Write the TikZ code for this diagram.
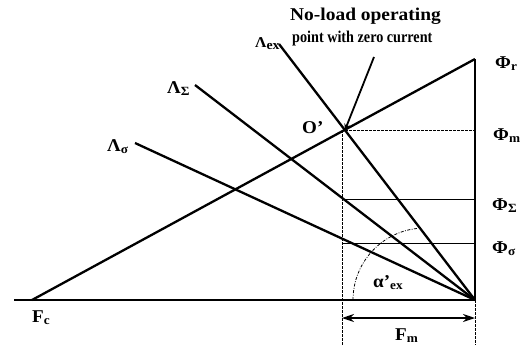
\documentclass[tikz,border=0pt]{standalone}
\usepackage{fontspec}
\setmainfont{Liberation Serif}
\usetikzlibrary{arrows.meta}
\newcommand\lsub[1]{\raisebox{-0.35ex}{\fontsize{12.5}{12.5}\selectfont #1}}
\newcommand\ssub[1]{\raisebox{-0.3ex}{\fontsize{13}{13}\selectfont #1}}
\newcommand\wide[1]{\scalebox{1.06}[1]{#1}}
\begin{document}
\begin{tikzpicture}[x=1pt,y=-1pt,
  mainline/.style={line width=2.3pt},
  thinline/.style={line width=0.8pt},
  guide/.style={line width=0.7pt,dash pattern=on 2.5pt off 1.5pt},
  lbl/.style={inner sep=0pt,font=\fontsize{18}{20}\selectfont\bfseries},
  ttl/.style={inner sep=0pt}]
\useasboundingbox (0,0) rectangle (521,348);
% key points
\coordinate (O) at (475,300);
\coordinate (Pr) at (475,59);
\coordinate (Fcp) at (32,300);
\coordinate (Op) at (345,130);
\coordinate (Lex) at (279,44);
\coordinate (LS) at (195,85);
\coordinate (Ls) at (135,143);
\coordinate (BL) at (14,300);
\coordinate (Pm) at (475,130);
\coordinate (PS) at (475,199);
\coordinate (Ps) at (475,243);
\coordinate (VS) at (342,199);
\coordinate (Vs) at (342,243);
\coordinate (Vt) at (342,130);
\coordinate (Vb) at (342,345);
\coordinate (Ob) at (475,345);
\coordinate (Fa) at (342,318);
\coordinate (Fb) at (475,318);
\coordinate (Ptr) at (374,57);
\coordinate (Arc0) at (353,300);
% axes
\draw[mainline] (BL) -- (O);
\draw[mainline] (O) -- (Pr);
\draw[mainline] (Fcp) -- (Pr);
% permeance lines
\draw[mainline] (Lex) -- (O);
\draw[mainline] (LS) -- (O);
\draw[mainline] (Ls) -- (O);
% flux levels
\draw[guide] (Op) -- (Pm);
\draw[thinline] (VS) -- (PS);
\draw[thinline] (Vs) -- (Ps);
\draw[guide] (Vt) -- (Vb);
\draw[guide] (O) -- (Ob);
% angle arc
\draw[line width=0.8pt,dash pattern=on 3pt off 1.5pt on 0.8pt off 1.5pt] (Arc0) arc[start angle=180,end angle=96,radius=72pt];
% Fm dimension
\draw[line width=1.5pt,{Stealth[length=12pt,width=8pt]}-{Stealth[length=12pt,width=8pt]}] (Fa) -- (Fb);
% pointer to O'
\draw[line width=1.8pt,-{Stealth[length=6pt,width=6pt]}] (Ptr) -- (Op);
% labels
\node[ttl,anchor=base west,font=\fontsize{18}{21}\selectfont\bfseries] (t1) at (290,20) {\scalebox{1.08}[1]{No-load operating}};
\node[ttl,anchor=base west,font=\fontsize{16.5}{18}\selectfont\bfseries] (t2) at (292,42) {\scalebox{0.86}[1]{point with zero current}};
\node[lbl,anchor=base west,font=\fontsize{15}{16}\selectfont\bfseries] (lexl) at (255,47) {\wide{Λ\ssub{ex}}};
\node[lbl,anchor=base west] (lSl) at (167,93) {\wide{Λ\lsub{Σ}}};
\node[lbl,anchor=base west] (lsl) at (107,151) {\wide{Λ\lsub{σ}}};
\node[lbl,anchor=base west] (opl) at (302,133) {\wide{O’}};
\node[lbl,anchor=base west] (prl) at (495,68) {\wide{Φ\lsub{r}}};
\node[lbl,anchor=base west] (pml) at (493,140) {\wide{Φ\lsub{m}}};
\node[lbl,anchor=base west] (pSl) at (492,210) {\wide{Φ\lsub{Σ}}};
\node[lbl,anchor=base west] (psl) at (492,253) {\wide{Φ\lsub{σ}}};
\node[lbl,anchor=base west] (fcl) at (32,322) {\wide{F\lsub{c}}};
\node[lbl,anchor=base west] (fml) at (395,340) {\wide{F\lsub{m}}};
\node[lbl,anchor=base west] (al) at (373,287) {\wide{α’\lsub{ex}}};
\end{tikzpicture}
\end{document}
